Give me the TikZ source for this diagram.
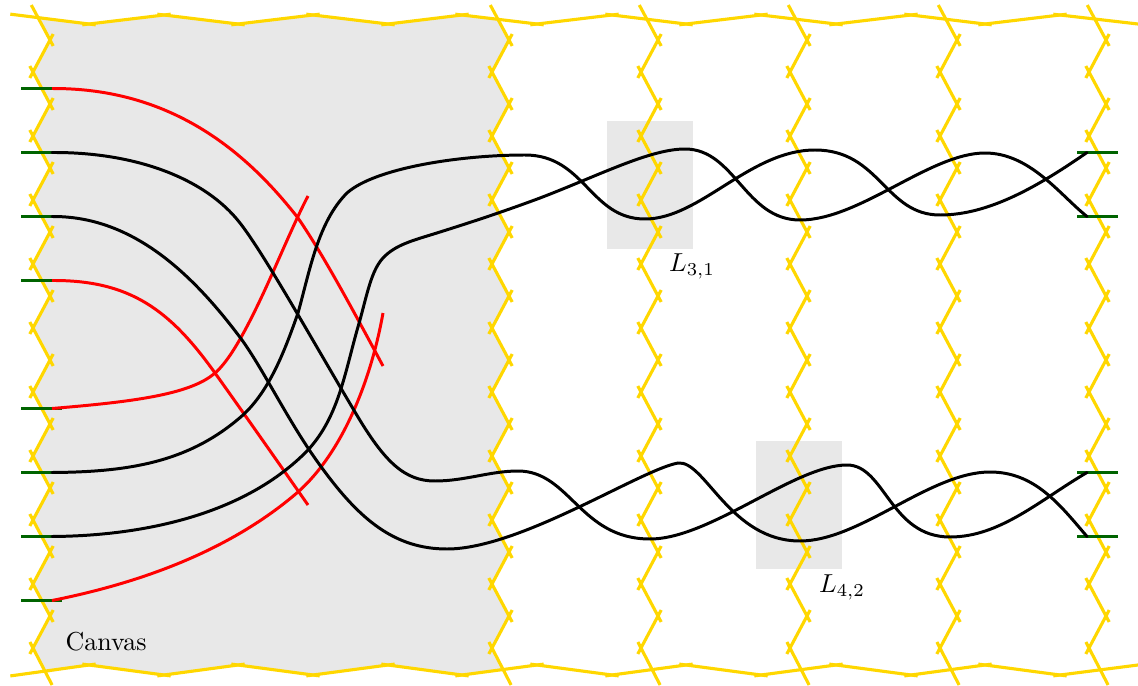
\documentclass[tikz,border=0pt]{standalone}
\usepackage{amsmath,amssymb}
\usepackage{xcolor}
\usetikzlibrary{calc}
\definecolor{canvasgray}{HTML}{E8E8E8}
\definecolor{fencegold}{HTML}{FFD700}
\definecolor{portgreen}{HTML}{006400}
\tikzset{
  canvasfill/.style={fill=canvasgray},
  fence/.style={fencegold,line width=1.2pt,shorten <=-2.6pt,shorten >=-2.6pt},
  port/.style={portgreen,line width=1.2pt},
  strand/.style={black,line width=1.15pt,line cap=round},
  cutstrand/.style={red,line width=1.15pt}
}
\begin{document}
\begin{tikzpicture}[x=0.385pt,y=-0.385pt]
        \useasboundingbox (0,0) rectangle (1138,686);

        % shaded canvas, bounded by the fences
        \fill[canvasfill] (37,16) -- (89,24) -- (164,15) -- (238,24) -- (313,15)
          -- (388,24) -- (462,15) -- (498,19)
          \foreach \k [evaluate=\k as \px using {509-17*mod(\k,2)},
                       evaluate=\k as \py using {40+32*\k}] in {0,...,19} { -- (\px,\py) }
          -- (503,669) -- (462,675) -- (388,665) -- (313,675) -- (238,665)
          -- (164,675) -- (89,665) -- (46,673)
          \foreach \k [evaluate=\k as \px using {50-17*mod(\k,2)},
                       evaluate=\k as \py using {40+32*\k}] in {19,18,...,0} { -- (\px,\py) }
          -- cycle;

        % local windows
        \fill[canvasfill] (607,121) rectangle (693,249);
        \fill[canvasfill] (756,441) rectangle (842,569);

        % vertical fences
        \foreach \cx in {33,492,641,790,940,1089} {
          \draw[fence] (\cx+1.5,11) -- (\cx+17,40);
          \draw[fence] (\cx,648) -- (\cx+16,679);
          \foreach \k [evaluate=\k as \pa using {\cx+17*mod(\k+1,2)},
                       evaluate=\k as \pb using {\cx+17*mod(\k,2)},
                       evaluate=\k as \ya using {40+32*\k},
                       evaluate=\k as \yb using {72+32*\k}] in {0,...,18}
            \draw[fence] (\pa,\ya) -- (\pb,\yb);
        }

        % horizontal fences
        \foreach \xa/\xb [count=\i,
                          evaluate=\i as \ta using {15+9*mod(\i+1,2)},
                          evaluate=\i as \tb using {15+9*mod(\i,2)},
                          evaluate=\i as \ba using {675-10*mod(\i+1,2)},
                          evaluate=\i as \bb using {675-10*mod(\i,2)}]
            in {17/89,89/164,164/238,238/313,313/388,388/462,462/537,537/612,
                612/686,686/761,761/836,836/911,911/985,985/1060,1060/1138} {
          \draw[fence] (\xa,\ta) -- (\xb,\tb);
          \draw[fence] (\xa,\ba) -- (\xb,\bb);
        }

        % ports
        \foreach \name/\py in {la/88.5,lb/152.5,lc/216.5,ld/280.5,le/408.5,lf/472.5,lg/536.5,lh/600.5} {
          \coordinate (\name) at (52,\py);
          \draw[port] ($(\name)+(-31,0)$) -- ($(\name)+(10,0)$);
        }
        \foreach \name/\py in {ra/152.5,rb/216.5,rc/472.5,rd/536.5} {
          \coordinate (\name) at (1087,\py);
          \draw[port] ($(\name)+(-10,0)$) -- ($(\name)+(31,0)$);
        }

        % red strands
        \draw[cutstrand] (la) .. controls (170,88) and (245,150) .. (298,218)
          .. controls (320,250) and (345,295) .. (383,366);
        \draw[cutstrand] (ld) .. controls (130,280) and (170,310) .. (215,373)
          .. controls (245,415) and (280,465) .. (308,505);
        \draw[cutstrand] (le) .. controls (130,402) and (190,395) .. (215,373)
          .. controls (228,362) and (245,335) .. (273,272)
          .. controls (285,245) and (298,215) .. (308,196);
        \draw[cutstrand] (lh) .. controls (130,585) and (225,555) .. (298,492)
          .. controls (345,450) and (372,375) .. (383,313);

        % black strands
        \draw[strand] (lb) .. controls (135,152) and (205,178) .. (240,223)
          .. controls (265,255) and (315,345) .. (355,412)
          .. controls (385,463) and (405,481) .. (435,481)
          .. controls (465,481) and (490,471) .. (518,471)
          .. controls (570,471) and (580,539) .. (650,539)
          .. controls (710,539) and (795,465) .. (847,465)
          .. controls (885,465) and (890,537) .. (950,537)
          .. controls (1000,537) and (1040,500) .. (rc);
        \draw[strand] (lc) .. controls (130,216) and (190,270) .. (242,340)
          .. controls (265,372) and (290,425) .. (322,468)
          .. controls (360,520) and (395,549) .. (447,549)
          .. controls (520,549) and (640,470) .. (678,463)
          .. controls (705,460) and (730,541) .. (800,541)
          .. controls (860,541) and (930,472) .. (990,472)
          .. controls (1035,472) and (1060,505) .. (rd);
        \draw[strand] (lf) .. controls (130,472) and (190,462) .. (243,415)
          .. controls (270,390) and (285,350) .. (298,313)
          .. controls (310,270) and (318,222) .. (347,193)
          .. controls (375,168) and (460,155) .. (525,155)
          .. controls (585,155) and (590,219) .. (645,219)
          .. controls (700,219) and (750,150) .. (815,150)
          .. controls (880,150) and (885,215) .. (940,215)
          .. controls (990,215) and (1040,185) .. (ra);
        \draw[strand] (lg) .. controls (130,536) and (240,520) .. (308,450)
          .. controls (340,415) and (345,370) .. (360,320)
          .. controls (368,290) and (372,270) .. (383,258)
          .. controls (396,244) and (415,240) .. (440,232)
          .. controls (475,221) and (505,211) .. (540,198)
          .. controls (600,175) and (650,149) .. (685,149)
          .. controls (735,149) and (745,220) .. (800,220)
          .. controls (860,220) and (930,153) .. (985,153)
          .. controls (1030,153) and (1060,195) .. (rb);

        \node (canvaslabel) at (106,642) {Canvas};
        \node (windowa) at (692,266) {$L_{3,1}$};
        \node (windowb) at (842,587) {$L_{4,2}$};
\end{tikzpicture}
\end{document}
